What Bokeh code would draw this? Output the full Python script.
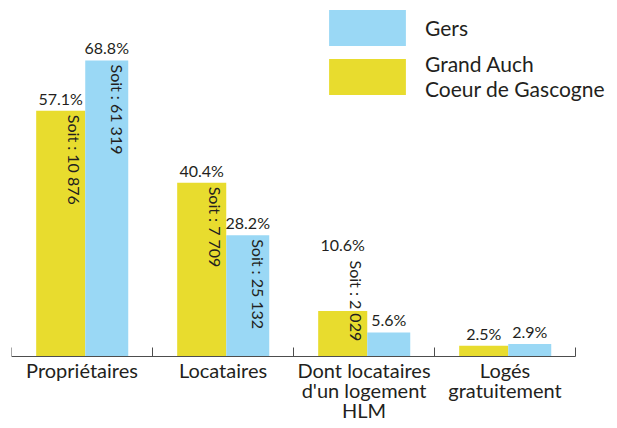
import math
import numpy as np
from bokeh.plotting import figure
from bokeh.models import Range1d, FixedTicker, Legend, LegendItem, ColumnDataSource
from bokeh.core.properties import value
from bokeh.embed import file_html
from bokeh.resources import INLINE

# ---- data ----
categories = ["Propriétaires", "Locataires", "Dont locataires\nd'un logement\nHLM", "Logés\ngratuitement"]
grand_auch = [57.1, 40.4, 10.6, 2.5]
gers = [68.8, 28.2, 5.6, 2.9]
grand_auch_soit = ["Soit : 10 876", "Soit : 7 709", "Soit : 2 029", ""]
gers_soit = ["Soit : 61 319", "Soit : 25 132", "", ""]
series_names = ["Gers", "Grand Auch\nCoeur de Gascogne"]

YELLOW = "#E8DC2E"
BLUE = "#9AD8F5"
TXT = "#231F20"
AXC = "#4D4D4D"
FONT = "Lato"

W, H = 609, 420
BL, BR, BT = 11, 4, 2
LABEL_ROOM_PX = 64          # room under the baseline for the category names
PX_PER_CAT = 141.0
X_END = (W - BL - BR) / PX_PER_CAT
Y_END = 82.28
PX_PER_UNIT = (H - BT - LABEL_ROOM_PX) / Y_END
Y_START = -LABEL_ROOM_PX / PX_PER_UNIT
SOIT_LEN_UNITS = 100 / PX_PER_UNIT   # room needed by a rotated "Soit" text

idx = np.arange(len(categories))
Y_L, Y_R = 0.175, 0.523
B_L, B_R = 0.523, 0.828


def make_src(vals, soit, left, right):
    ys = [max(v, SOIT_LEN_UNITS) if s else v for v, s in zip(vals, soit)]
    return ColumnDataSource(dict(
        x=idx + (left + right) / 2, xr=idx + right, top=vals, ys=ys,
        pct=[f"{v}%" for v in vals], soit=soit))


src_y = make_src(grand_auch, grand_auch_soit, Y_L, Y_R)
src_b = make_src(gers, gers_soit, B_L, B_R)

p = figure(width=W, height=H, x_range=Range1d(0, X_END),
           y_range=Range1d(Y_START, Y_END), output_backend="svg", toolbar_location=None,
           min_border_left=BL, min_border_right=BR, min_border_top=BT, min_border_bottom=0,
           y_axis_location=None, outline_line_color=None)
p.grid.visible = False

ry = p.vbar(x="x", top="top", width=Y_R - Y_L, bottom=0, source=src_y,
            fill_color=YELLOW, line_color=None)
rb = p.vbar(x="x", top="top", width=B_R - B_L, bottom=0, source=src_b,
            fill_color=BLUE, line_color=None)

for src in (src_y, src_b):
    p.text(x="x", y="ys", text="pct", source=src, text_align="center",
           text_baseline="bottom", y_offset=-3, text_font=value(FONT),
           text_font_size="16px", text_color=TXT)
    p.text(x="xr", y="ys", text="soit", source=src, angle=-math.pi / 2,
           text_align="left", text_baseline="middle", x_offset=-11, y_offset=4,
           text_font=value(FONT), text_font_size="16px", text_color=TXT)

ax = p.xaxis[0]
ax.fixed_location = 0
ax.bounds = (0, len(categories))
ax.ticker = FixedTicker(ticks=list(idx + 0.5), minor_ticks=list(range(len(categories) + 1)))
ax.major_label_overrides = {float(i + 0.5): c for i, c in enumerate(categories)}
ax.major_label_standoff = 1
ax.major_label_text_font = FONT
ax.major_label_text_font_size = "20px"
ax.major_label_text_color = TXT
ax.major_label_text_line_height = 0.84
ax.major_tick_in = 0
ax.major_tick_out = 0
ax.major_tick_line_color = None
ax.minor_tick_in = 9
ax.minor_tick_out = 0
ax.minor_tick_line_color = AXC
ax.axis_line_color = AXC

legend = Legend(items=[LegendItem(label=series_names[0], renderers=[rb]),
                       LegendItem(label=series_names[1], renderers=[ry])],
                location=(308, 255 + LABEL_ROOM_PX), glyph_width=96, glyph_height=45,
                spacing=1, label_standoff=10, padding=0, margin=0, border_line_color=None,
                background_fill_alpha=0, label_text_font=FONT,
                label_text_font_size="21px", label_text_color=TXT,
                label_text_line_height=0.85)
p.add_layout(legend)

open("out.html", "w").write(file_html(p, INLINE))
